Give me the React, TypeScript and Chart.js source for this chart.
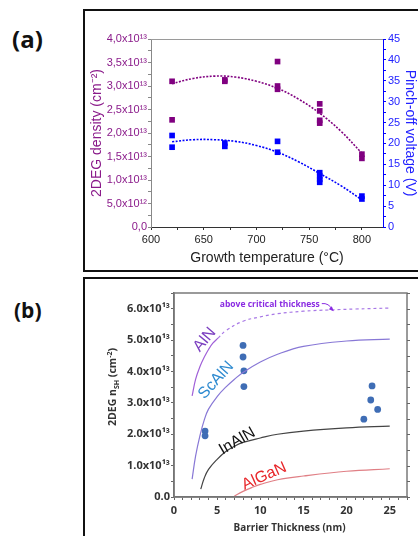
import React, { useEffect, useRef, useState } from "react";
import { Chart, registerables } from "chart.js";

Chart.register(...registerables);

// ---------------- Panel (a) data ----------------
const densityTemps = [620, 620, 670, 670, 720, 720, 720, 760, 760, 760, 760, 800, 800];
const densityValues = [3.1e13, 2.28e13, 3.1e13, 3.13e13, 3.52e13, 3.0e13, 2.93e13, 2.62e13, 2.47e13, 2.27e13, 2.21e13, 1.55e13, 1.46e13];
const voltageTemps = [620, 620, 670, 670, 720, 720, 760, 760, 760, 760, 800, 800];
const voltageValues = [21.9, 19.1, 20.1, 19.3, 20.5, 17.9, 13.0, 12.2, 11.4, 10.7, 7.4, 6.7];
const fitTemps = [620, 640, 660, 680, 700, 720, 740, 760, 780, 800];
const densityFit = [3.05e13, 3.16e13, 3.21e13, 3.19e13, 3.1e13, 2.95e13, 2.72e13, 2.42e13, 2.04e13, 1.57e13];
const voltageFit = [20.4, 20.9, 20.9, 20.5, 19.5, 17.9, 15.6, 12.8, 9.9, 6.5];

// ---------------- Panel (b) data ----------------
const alnSolidX = [2.1, 2.5, 3, 3.5, 4, 4.5, 5.1];
const alnSolidY = [3.22e13, 3.75e13, 4.15e13, 4.45e13, 4.7e13, 4.9e13, 5.06e13];
const alnDashX = [5.1, 6, 8, 10, 12, 15, 18, 21, 25];
const alnDashY = [5.06e13, 5.3e13, 5.6e13, 5.74e13, 5.84e13, 5.92e13, 5.96e13, 5.99e13, 6.02e13];
const scalnX = [2.1, 2.5, 3, 3.5, 4, 5, 6, 7, 8, 10, 12, 15, 20, 25];
const scalnY = [0.57e13, 1.3e13, 1.95e13, 2.45e13, 2.8e13, 3.2e13, 3.5e13, 3.75e13, 3.97e13, 4.3e13, 4.55e13, 4.8e13, 4.97e13, 5.03e13];
const inalnX = [3.1, 3.5, 4, 5, 6, 7, 8, 10, 12, 15, 20, 25];
const inalnY = [0.25e13, 0.6e13, 0.88e13, 1.2e13, 1.45e13, 1.62e13, 1.74e13, 1.88e13, 2.0e13, 2.1e13, 2.2e13, 2.26e13];
const alganX = [7, 8, 9, 10, 12, 15, 20, 25];
const alganY = [0.03e13, 0.18e13, 0.3e13, 0.4e13, 0.55e13, 0.67e13, 0.82e13, 0.9e13];
const measuredX = [3.6, 3.6, 8.0, 8.0, 8.1, 8.1, 22.95, 22.8, 23.6, 22.0];
const measuredY = [2.1e13, 1.95e13, 4.83e13, 4.46e13, 4.02e13, 3.52e13, 3.54e13, 3.09e13, 2.79e13, 2.48e13];

const curveLabelTexts = ["AlN", "ScAlN", "InAlN", "AlGaN"];
const curveLabelX = [3.56, 4.89, 7.32, 10.45];
const curveLabelY = [5.01e13, 3.72e13, 1.78e13, 0.66e13];

const FONT_A = "'Liberation Sans', Arial, sans-serif";
const FONT_B = "'Open Sans', 'Liberation Sans', sans-serif";
const PURPLE = "#800080";
const PURPLE_TXT = "#8a1a8a";
const BLUE = "#0000ff";
const BLUE_TXT = "#2222ff";

const CANVAS_B_LEFT = 85;
const CANVAS_B_TOP = 279;

const pts = (xs: number[], ys: number[]) => xs.map((x, i) => ({ x, y: ys[i] }));
const near = (v: number, step: number) => Math.abs(v / step - Math.round(v / step)) < 1e-6;

const fmtA = (v: number) => {
  if (!near(v, 5e12)) return "";
  if (v === 0) return "0,0";
  if (v < 1e13) return (v / 1e12).toFixed(1).replace(".", ",") + "x10¹²";
  return (v / 1e13).toFixed(1).replace(".", ",") + "x10¹³";
};
const fmtB = (v: number) => {
  if (!near(v, 1e13)) return "";
  if (v === 0) return "0.0";
  return (v / 1e13).toFixed(1) + "x10¹³";
};
const fmtBx = (v: number) => (near(v, 5) ? String(Math.round(v)) : "");

const frameA = {
  id: "frameA",
  afterDraw(chart: any) {
    const { ctx, chartArea: a } = chart;
    ctx.save();
    ctx.strokeStyle = "#9a9a9a";
    ctx.lineWidth = 1;
    ctx.beginPath();
    ctx.moveTo(a.left, a.top + 0.5);
    ctx.lineTo(a.right, a.top + 0.5);
    ctx.stroke();
    ctx.restore();
  },
};

const labelsColors = ["#7b3fc0", "#2f8bd0", "#111111", "#e8262a"];
const labelsAngles = [-50, -48, -30, -24];

const annotB = {
  id: "annotB",
  afterDraw(chart: any) {
    const { ctx, chartArea: a, scales } = chart;
    const sx = scales.x;
    const sy = scales.y;
    ctx.save();
    ctx.strokeStyle = "#7a7a7a";
    ctx.lineWidth = 1.5;
    ctx.strokeRect(a.left, a.top, a.right - a.left, a.bottom - a.top);
    ctx.strokeStyle = "#666";
    ctx.lineWidth = 1;
    ctx.beginPath();
    sy.ticks.forEach((t: any) => {
      const py = Math.round(sy.getPixelForValue(t.value)) + 0.5;
      ctx.moveTo(a.right, py);
      ctx.lineTo(a.right + 3, py);
    });
    ctx.stroke();
    curveLabelTexts.forEach((t, i) => {
      const px = sx.getPixelForValue(curveLabelX[i]);
      const py = sy.getPixelForValue(curveLabelY[i]);
      ctx.save();
      ctx.translate(px, py);
      ctx.rotate((labelsAngles[i] * Math.PI) / 180);
      ctx.fillStyle = labelsColors[i];
      ctx.font = `16px ${FONT_A}`;
      ctx.textAlign = "center";
      ctx.textBaseline = "middle";
      ctx.fillText(t, 0, 0);
      ctx.restore();
    });
    const tx = sx.getPixelForValue(11.1);
    const ty = sy.getPixelForValue(6.13e13);
    ctx.fillStyle = "#8a2be2";
    ctx.font = `bold 9px ${FONT_B}`;
    ctx.textAlign = "center";
    ctx.textBaseline = "middle";
    ctx.fillText("above critical thickness", tx, ty, 100);
    const x0 = tx + 52;
    const y0 = ty - 1;
    const x1 = sx.getPixelForValue(18.4);
    const y1 = sy.getPixelForValue(5.95e13);
    ctx.strokeStyle = "#8a2be2";
    ctx.lineWidth = 1;
    ctx.beginPath();
    ctx.moveTo(x0, y0);
    ctx.quadraticCurveTo(x1 - 4, y0 - 1, x1, y1);
    ctx.stroke();
    ctx.beginPath();
    ctx.moveTo(x1 + 1, y1 + 1);
    ctx.lineTo(x1 - 4, y1 - 1);
    ctx.lineTo(x1 - 1, y1 - 4);
    ctx.closePath();
    ctx.fill();
    ctx.fillStyle = "#333";
    ctx.font = `bold 10.5px ${FONT_B}`;
    ctx.textAlign = "center";
    ctx.textBaseline = "middle";
    ctx.fillText("Barrier Thickness (nm)", (a.left + a.right) / 2 - 1, 249, 112);
    const parts = [
      { t: "2DEG n", s: 10.5, dy: 0 },
      { t: "SH", s: 7, dy: 3 },
      { t: " (cm", s: 10.5, dy: 0 },
      { t: "-2", s: 7, dy: -4 },
      { t: ")", s: 10.5, dy: 0 },
    ];
    let total = 0;
    parts.forEach((p) => {
      ctx.font = `bold ${p.s}px ${FONT_B}`;
      total += ctx.measureText(p.t).width;
    });
    ctx.save();
    ctx.translate(28.5, 108);
    ctx.rotate(-Math.PI / 2);
    ctx.textAlign = "left";
    let cx = -total / 2;
    parts.forEach((p) => {
      ctx.font = `bold ${p.s}px ${FONT_B}`;
      ctx.fillText(p.t, cx, p.dy);
      cx += ctx.measureText(p.t).width;
    });
    ctx.restore();
    ctx.restore();
  },
};

type XLabel = { x: number; y: number; t: string };

export default function App() {
  const refA = useRef<HTMLCanvasElement>(null);
  const refB = useRef<HTMLCanvasElement>(null);
  const [xLabels, setXLabels] = useState<XLabel[]>([]);

  useEffect(() => {
    const chartA = new Chart(refA.current as HTMLCanvasElement, {
      type: "scatter",
      data: {
        datasets: [
          { data: pts(fitTemps, densityFit), yAxisID: "y", showLine: true, borderColor: PURPLE, borderWidth: 1.6, borderDash: [2, 1.5], pointRadius: 0, tension: 0.4 },
          { data: pts(fitTemps, voltageFit), yAxisID: "y2", showLine: true, borderColor: BLUE, borderWidth: 1.6, borderDash: [2, 1.5], pointRadius: 0, tension: 0.4 },
          { data: pts(densityTemps, densityValues), yAxisID: "y", pointStyle: "rect", pointRadius: 4, backgroundColor: PURPLE, borderWidth: 0 },
          { data: pts(voltageTemps, voltageValues), yAxisID: "y2", pointStyle: "rect", pointRadius: 4, backgroundColor: BLUE, borderWidth: 0 },
        ],
      },
      options: {
        animation: false,
        responsive: true,
        maintainAspectRatio: false,
        layout: { padding: { top: 28, left: 0, right: 0, bottom: 0 } },
        plugins: { legend: { display: false }, tooltip: { enabled: false } },
        scales: {
          x: {
            type: "linear", position: "bottom", min: 600, max: 820,
            ticks: { stepSize: 25, includeBounds: false, autoSkip: false, maxRotation: 0, color: "#222", padding: 3, font: { size: 11, family: FONT_A }, callback: (v: any) => (near(Number(v), 50) ? String(v) : "") },
            grid: { drawOnChartArea: false, drawTicks: true, tickLength: 3, color: "#333" },
            border: { color: "#333", width: 1 },
            title: { display: true, text: "Growth temperature (°C)", color: "#222", font: { size: 14, family: FONT_A }, padding: 3 },
            afterFit: (s: any) => { s.height = 43; },
          },
          y: {
            type: "linear", position: "left", min: 0, max: 4e13,
            ticks: { stepSize: 2.5e12, includeBounds: false, autoSkip: false, color: PURPLE_TXT, padding: 1, font: { size: 11, family: FONT_A }, callback: (v: any) => fmtA(Number(v)) },
            grid: { drawOnChartArea: false, drawTicks: true, tickLength: 3, color: "#888" },
            border: { color: "#888", width: 1 },
            title: { display: true, text: "2DEG density (cm⁻²)", color: PURPLE_TXT, font: { size: 14, family: FONT_A }, padding: 4 },
            afterFit: (s: any) => { s.width = 66; },
          },
          y2: {
            type: "linear", position: "right", min: 0, max: 45,
            ticks: { stepSize: 2.5, includeBounds: false, autoSkip: false, color: BLUE_TXT, padding: 2, font: { size: 11, family: FONT_A }, callback: (v: any) => (near(Number(v), 5) ? String(v) : "") },
            grid: { drawOnChartArea: false, drawTicks: true, tickLength: 3, color: BLUE },
            border: { color: BLUE, width: 1 },
            title: { display: true, text: "Pinch-off voltage (V)", color: BLUE_TXT, font: { size: 14, family: FONT_A }, padding: 0 },
            afterFit: (s: any) => { s.width = 35; },
          },
        },
      } as any,
      plugins: [frameA],
    });

    const lineDs = (xs: number[], ys: number[], color: string, dash: number[] = []) => ({
      data: pts(xs, ys), showLine: true, borderColor: color, borderWidth: 1.2, borderDash: dash, pointRadius: 0, tension: 0.4,
    });

    const chartB = new Chart(refB.current as HTMLCanvasElement, {
      type: "scatter",
      data: {
        datasets: [
          lineDs(alnSolidX, alnSolidY, "#a060d8"),
          lineDs(alnDashX, alnDashY, "#a878e6", [3, 3]),
          lineDs(scalnX, scalnY, "#8878d6"),
          lineDs(inalnX, inalnY, "#444444"),
          lineDs(alganX, alganY, "#e07f85"),
          { data: pts(measuredX, measuredY), pointStyle: "circle", pointRadius: 3.4, backgroundColor: "#3f6db5", borderWidth: 0 },
        ],
      },
      options: {
        animation: false,
        responsive: true,
        maintainAspectRatio: false,
        layout: { padding: { top: 14, left: 0, right: 11, bottom: 0 } },
        plugins: { legend: { display: false }, tooltip: { enabled: false } },
        scales: {
          x: {
            type: "linear", position: "bottom", min: 0, max: 27,
            ticks: { display: false, stepSize: 1, autoSkip: false, maxRotation: 0 },
            grid: { drawOnChartArea: false, drawTicks: true, tickLength: 3, color: "#666" },
            border: { color: "#666", width: 1.5 },
            afterFit: (s: any) => { s.height = 39; },
          },
          y: {
            type: "linear", position: "left", min: 0, max: 6.5e13,
            ticks: { stepSize: 5e12, autoSkip: false, color: "#333", padding: 1, font: { size: 11, family: FONT_B, weight: "bold" }, callback: (v: any) => fmtB(Number(v)) },
            grid: { drawOnChartArea: false, drawTicks: true, tickLength: 3, color: "#666" },
            border: { color: "#666", width: 1.5 },
            afterFit: (s: any) => { s.width = 89; },
          },
        },
      } as any,
      plugins: [annotB],
    });

    // x tick labels of panel (b), positioned from the chart's own x scale
    const sx: any = chartB.scales.x;
    const labels: XLabel[] = [];
    sx.ticks.forEach((t: any, i: number) => {
      const s = fmtBx(t.value);
      if (s) labels.push({ x: CANVAS_B_LEFT + sx.getPixelForTick(i), y: CANVAS_B_TOP + chartB.chartArea.bottom + 11.6, t: s });
    });
    setXLabels(labels);

    return () => {
      chartA.destroy();
      chartB.destroy();
    };
  }, []);

  return (
    <div style={{ position: "absolute", left: 0, top: 0, width: 418, height: 536, overflow: "hidden", background: "#fff" }}>
      <div style={{ position: "absolute", left: 12, top: 22, fontFamily: "'Open Sans', sans-serif", fontWeight: "bold", fontSize: 24, lineHeight: "34px", color: "#111" }}>(a)</div>
      <div style={{ position: "absolute", left: 14, top: 295, fontFamily: "'Open Sans', sans-serif", fontWeight: "bold", fontSize: 21, lineHeight: "30px", color: "#111" }}>(b)</div>
      <div style={{ position: "absolute", left: 83, top: 9, width: 400, height: 263, border: "2px solid #111", boxSizing: "border-box" }} />
      <div style={{ position: "absolute", left: 83, top: 277, width: 400, height: 300, border: "2px solid #111", boxSizing: "border-box" }} />
      <div style={{ position: "absolute", left: 85, top: 11, width: 333, height: 259 }}>
        <canvas ref={refA} />
      </div>
      <div style={{ position: "absolute", left: CANVAS_B_LEFT, top: CANVAS_B_TOP, width: 333, height: 257 }}>
        <canvas ref={refB} />
      </div>
      {xLabels.map((l) => (
        <span
          key={l.t}
          style={{
            position: "absolute",
            left: l.x,
            top: l.y,
            transform: "translate(-50%, -50%)",
            fontFamily: FONT_B,
            fontWeight: "bold",
            fontSize: 11,
            lineHeight: "13px",
            color: "#333",
            whiteSpace: "nowrap",
          }}
        >
          {l.t}
        </span>
      ))}
    </div>
  );
}
